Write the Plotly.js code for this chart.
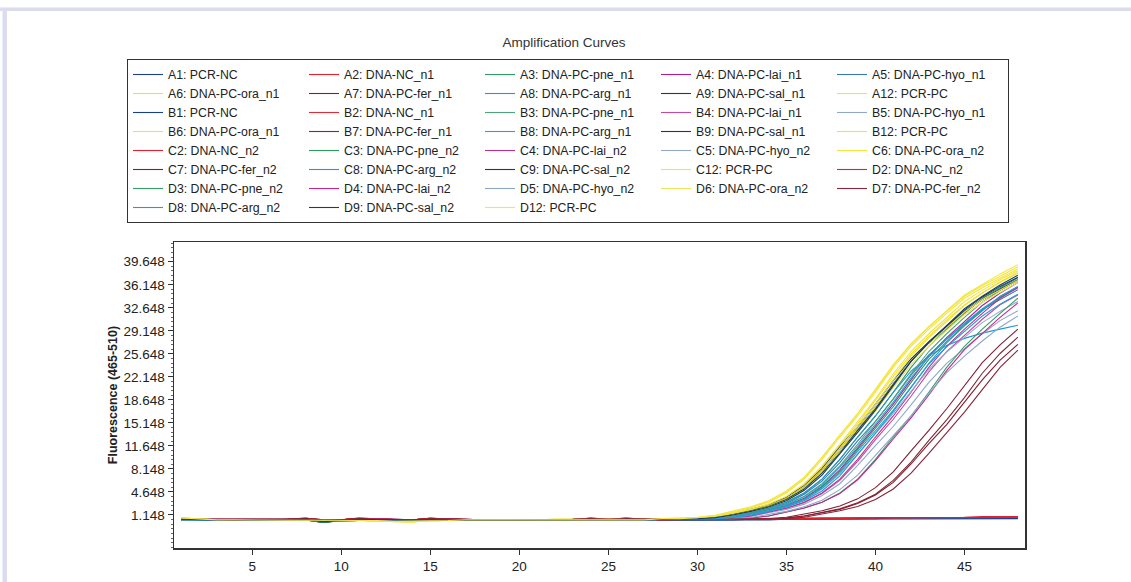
<!DOCTYPE html>
<html><head><meta charset="utf-8">
<script src="https://cdn.plot.ly/plotly-3.0.1.min.js"></script>
<style>html,body{margin:0;padding:0;background:#fff;}#chart{width:1131px;height:582px;}</style>
</head><body><div id="chart"></div>
<script>
const cycles = [1,2,3,4,5,6,7,8,9,10,11,12,13,14,15,16,17,18,19,20,21,22,23,24,25,26,27,28,29,30,31,32,33,34,35,36,37,38,39,40,41,42,43,44,45,46,47,48];
const yTicks = [1.148,4.648,8.148,11.648,15.148,18.648,22.148,25.648,29.148,32.648,36.148,39.648];
const xTicks = [5,10,15,20,25,30,35,40,45];

const y_A1 = [0.4,0.4,0.3,0.3,0.4,0.4,0.4,0.4,0.2,0.3,0.4,0.3,0.4,0.3,0.3,0.3,0.3,0.4,0.3,0.3,0.3,0.3,0.3,0.3,0.4,0.3,0.4, 0.4,0.4,0.4,0.4,0.4,0.4,0.4,0.5,0.5,0.5,0.5,0.6,0.6,0.6,0.6,0.6,0.6,0.6,0.6,0.6,0.6];
const y_A2 = [0.5,0.4,0.4,0.3,0.4,0.4,0.4,0.6,0.3,0.4,0.6,0.5,0.4,0.4,0.6,0.5,0.3,0.3,0.3,0.3,0.3,0.4,0.4,0.6,0.4,0.6,0.4, 0.5,0.5,0.5,0.5,0.5,0.5,0.6,0.6,0.6,0.6,0.6,0.6,0.7,0.7,0.7,0.7,0.7,0.8,0.8,0.8,0.8];
const y_A3 = [0.5,0.4,0.3,0.3,0.4,0.4,0.4,0.5,0.1,0.4,0.5,0.4,0.4,0.3,0.4,0.3,0.3,0.3,0.3,0.3,0.3,0.4,0.4,0.4,0.4,0.4,0.4, 0.5,0.5,0.55,0.7,1.0,1.6,2.2,3.1,4.5,6.6,9.6,13.0,16.2,19.8,23.6,26.8,29.4,31.8,34.1,35.7,37.2];
const y_A4 = [0.5,0.5,0.4,0.4,0.5,0.5,0.5,0.6,0.4,0.4,0.6,0.5,0.5,0.4,0.6,0.5,0.4,0.4,0.4,0.4,0.4,0.5,0.5,0.6,0.5,0.6,0.5, 0.5,0.5,0.52,0.6,0.8,1.3,1.9,2.6,3.7,5.5,8.0,11.3,14.6,18.0,21.7,25.3,28.1,30.6,33.0,34.9,36.5];
const y_A5 = [0.4,0.3,0.3,0.3,0.3,0.4,0.4,0.4,0.2,0.3,0.3,0.3,0.3,0.3,0.3,0.3,0.3,0.3,0.3,0.3,0.3,0.3,0.3,0.3,0.3,0.3,0.3, 0.5,0.5,0.55,0.7,1.0,1.5,2.1,2.9,4.3,6.3,9.1,12.4,15.4,18.8,22.4,25.5,27.9,30.2,32.4,33.9,35.4];
const y_A6 = [0.7,0.5,0.4,0.4,0.4,0.4,0.4,0.4,0.3,0.4,0.3,0.3,0.2,0.2,0.3,0.3,0.4,0.4,0.4,0.4,0.4,0.4,0.4,0.4,0.4,0.4,0.4, 0.5,0.55,0.65,0.9,1.4,2.0,2.8,3.9,5.8,8.5,11.8,15.0,18.6,22.2,25.6,28.3,30.8,33.1,34.9,36.6,38.0];
const y_A7 = [0.5,0.5,0.4,0.4,0.5,0.5,0.5,0.6,0.4,0.4,0.6,0.5,0.5,0.4,0.6,0.5,0.4,0.4,0.4,0.4,0.4,0.5,0.5,0.6,0.5,0.6,0.5, 0.5,0.5,0.5,0.5,0.5,0.5,0.6,0.8,1.3,1.8,2.5,3.6,5.3,7.7,10.9,14.0,17.3,20.8,24.3,27.0,29.4];
const y_A8 = [0.4,0.4,0.3,0.3,0.4,0.4,0.4,0.4,0.2,0.3,0.4,0.3,0.4,0.3,0.3,0.3,0.3,0.4,0.3,0.3,0.3,0.3,0.3,0.3,0.4,0.3,0.4, 0.5,0.5,0.55,0.7,1.0,1.6,2.2,3.1,4.5,6.6,9.6,13.0,16.2,19.8,23.0,25.3,26.9,28.0,28.8,29.4,30.0];
const y_A9 = [0.5,0.4,0.4,0.3,0.4,0.4,0.4,0.4,0.0,0.3,0.4,0.4,0.4,0.4,0.4,0.3,0.3,0.4,0.3,0.3,0.3,0.3,0.4,0.4,0.4,0.3,0.4, 0.5,0.55,0.65,0.9,1.35,2.0,2.7,3.8,5.6,8.2,11.5,14.6,18.0,21.6,24.9,27.5,29.9,32.1,33.9,35.5,36.9];
const y_A12 = [0.7,0.5,0.4,0.3,0.4,0.4,0.4,0.4,0.3,0.4,0.3,0.2,0.2,0.1,0.3,0.3,0.4,0.4,0.4,0.4,0.4,0.5,0.5,0.5,0.5,0.5,0.5, 0.5,0.55,0.7,1.0,1.6,2.2,3.1,4.5,6.6,9.6,13.0,16.2,19.8,23.6,26.8,29.4,31.8,34.1,35.7,37.2,38.6];

const y_B1 = [0.4,0.3,0.3,0.3,0.3,0.4,0.4,0.4,0.2,0.3,0.3,0.3,0.3,0.3,0.3,0.3,0.3,0.3,0.3,0.3,0.3,0.3,0.3,0.3,0.3,0.3,0.3, 0.4,0.4,0.4,0.4,0.4,0.5,0.5,0.5,0.5,0.5,0.6,0.6,0.6,0.7,0.7,0.6,0.6,0.7,0.7,0.7,0.7];
const y_B2 = [0.4,0.4,0.3,0.3,0.4,0.4,0.5,0.7,0.3,0.4,0.7,0.6,0.4,0.3,0.7,0.5,0.3,0.3,0.3,0.3,0.4,0.4,0.4,0.7,0.5,0.7,0.5, 0.5,0.5,0.5,0.5,0.6,0.6,0.6,0.6,0.6,0.7,0.7,0.7,0.7,0.7,0.8,0.8,0.8,0.8,0.8,0.8,0.8];
const y_B3 = [0.5,0.4,0.4,0.3,0.4,0.4,0.4,0.4,0.0,0.3,0.4,0.4,0.4,0.4,0.4,0.3,0.3,0.4,0.3,0.3,0.3,0.3,0.4,0.4,0.4,0.3,0.4, 0.5,0.5,0.53,0.65,0.9,1.4,2.0,2.8,4.0,5.9,8.6,11.9,15.3,18.8,22.6,26.0,28.7,31.2,33.5,35.3,36.9];
const y_B4 = [0.5,0.4,0.4,0.4,0.4,0.5,0.5,0.5,0.3,0.4,0.5,0.6,0.5,0.4,0.5,0.6,0.4,0.4,0.4,0.4,0.4,0.4,0.5,0.5,0.5,0.5,0.5, 0.5,0.5,0.5,0.55,0.7,1.0,1.55,2.15,3.0,4.4,6.4,9.3,12.6,15.7,19.2,22.9,26.0,28.5,30.9,33.1,34.6];
const y_B5 = [0.4,0.4,0.3,0.3,0.4,0.4,0.4,0.4,0.2,0.3,0.4,0.3,0.4,0.3,0.3,0.3,0.3,0.4,0.3,0.3,0.3,0.3,0.3,0.3,0.4,0.3,0.4, 0.5,0.5,0.5,0.55,0.7,0.95,1.5,2.0,2.8,4.1,5.9,8.7,11.7,14.6,17.9,21.3,24.2,26.5,28.7,30.7,32.2];
const y_B6 = [0.7,0.5,0.4,0.4,0.4,0.4,0.4,0.4,0.3,0.4,0.3,0.3,0.2,0.2,0.3,0.3,0.4,0.4,0.4,0.4,0.4,0.4,0.4,0.4,0.4,0.4,0.4, 0.5,0.52,0.6,0.8,1.3,1.9,2.6,3.7,5.5,8.0,11.3,14.6,18.0,21.7,25.3,28.1,30.6,33.0,34.9,36.5,37.9];
const y_B7 = [0.5,0.4,0.4,0.4,0.4,0.5,0.5,0.5,0.3,0.4,0.5,0.6,0.5,0.4,0.5,0.6,0.4,0.4,0.4,0.4,0.4,0.4,0.5,0.5,0.5,0.5,0.5, 0.5,0.5,0.5,0.5,0.5,0.5,0.55,0.7,1.0,1.55,2.1,3.0,4.3,6.4,9.2,12.5,15.6,19.0,22.7,25.7,28.2];
const y_B8 = [0.4,0.3,0.3,0.3,0.3,0.4,0.4,0.4,0.2,0.3,0.3,0.3,0.3,0.3,0.3,0.3,0.3,0.3,0.3,0.3,0.3,0.3,0.3,0.3,0.3,0.3,0.3, 0.5,0.5,0.53,0.64,0.89,1.37,1.96,2.7,3.9,5.7,8.4,11.6,14.9,18.3,22.0,25.2,27.9,30.3,32.5,34.3,35.8];
const y_B9 = [0.5,0.4,0.3,0.3,0.4,0.4,0.4,0.5,0.1,0.4,0.5,0.4,0.4,0.3,0.4,0.3,0.3,0.3,0.3,0.3,0.3,0.4,0.4,0.4,0.4,0.4,0.4, 0.5,0.52,0.6,0.8,1.3,1.9,2.5,3.6,5.3,7.8,11.0,14.2,17.5,21.1,24.6,27.3,29.7,32.0,33.9,35.4,36.8];
const y_B12 = [0.7,0.5,0.4,0.4,0.4,0.4,0.4,0.4,0.3,0.4,0.3,0.3,0.2,0.2,0.3,0.3,0.4,0.4,0.4,0.4,0.4,0.4,0.4,0.4,0.4,0.4,0.4, 0.6,0.65,0.8,1.1,1.7,2.4,3.3,4.8,6.9,9.9,13.3,16.5,20.1,23.9,27.1,29.7,32.1,34.4,36.0,37.5,38.9];

const y_C2 = [0.5,0.4,0.4,0.3,0.4,0.4,0.4,0.6,0.3,0.4,0.6,0.5,0.4,0.4,0.6,0.5,0.3,0.3,0.3,0.3,0.3,0.4,0.4,0.6,0.4,0.6,0.4, 0.4,0.5,0.5,0.5,0.5,0.5,0.5,0.6,0.6,0.6,0.6,0.7,0.7,0.7,0.7,0.7,0.8,0.8,0.8,0.9,0.9];
const y_C3 = [0.5,0.4,0.3,0.3,0.4,0.4,0.4,0.5,0.1,0.4,0.5,0.4,0.4,0.3,0.4,0.3,0.3,0.3,0.3,0.3,0.3,0.4,0.4,0.4,0.4,0.4,0.4, 0.5,0.5,0.52,0.6,0.8,1.3,1.9,2.5,3.6,5.4,7.8,11.1,14.3,17.6,21.3,24.8,27.5,30.0,32.3,34.2,35.8];
const y_C4 = [0.5,0.5,0.4,0.4,0.5,0.5,0.5,0.6,0.4,0.4,0.6,0.5,0.5,0.4,0.6,0.5,0.4,0.4,0.4,0.4,0.4,0.5,0.5,0.6,0.5,0.6,0.5, 0.5,0.5,0.5,0.55,0.7,1.0,1.6,2.2,3.1,4.5,6.6,9.6,13.0,16.2,19.8,23.6,26.8,29.4,31.8,34.1,35.7];
const y_C5 = [0.4,0.3,0.3,0.3,0.3,0.4,0.4,0.4,0.2,0.3,0.3,0.3,0.3,0.3,0.3,0.3,0.3,0.3,0.3,0.3,0.3,0.3,0.3,0.3,0.3,0.3,0.3, 0.5,0.5,0.52,0.6,0.78,1.2,1.8,2.4,3.4,5.1,7.4,10.4,13.5,16.6,20.0,23.3,25.9,28.2,30.4,32.1,33.6];
const y_C6 = [0.7,0.5,0.4,0.3,0.4,0.4,0.4,0.4,0.3,0.4,0.3,0.2,0.2,0.1,0.3,0.3,0.4,0.4,0.4,0.4,0.4,0.5,0.5,0.5,0.5,0.5,0.5, 0.5,0.52,0.6,0.8,1.3,1.9,2.5,3.6,5.3,7.8,11.0,14.2,17.5,21.1,24.6,27.3,29.7,32.0,33.9,35.4,36.8];
const y_C7 = [0.5,0.5,0.4,0.4,0.5,0.5,0.5,0.6,0.4,0.4,0.6,0.5,0.5,0.4,0.6,0.5,0.4,0.4,0.4,0.4,0.4,0.5,0.5,0.6,0.5,0.6,0.5, 0.5,0.5,0.5,0.5,0.5,0.5,0.55,0.7,1.0,1.5,2.0,2.9,4.2,6.1,8.9,12.0,14.9,18.3,21.7,24.7,27.1];
const y_C8 = [0.4,0.4,0.3,0.3,0.4,0.4,0.4,0.4,0.2,0.3,0.4,0.3,0.4,0.3,0.3,0.3,0.3,0.4,0.3,0.3,0.3,0.3,0.3,0.3,0.4,0.3,0.4, 0.5,0.5,0.5,0.57,0.74,1.1,1.7,2.35,3.3,4.8,7.1,10.3,13.6,16.9,20.5,24.2,27.3,29.9,32.2,34.4,35.9];
const y_C9 = [0.5,0.4,0.4,0.3,0.4,0.4,0.4,0.4,0.0,0.3,0.4,0.4,0.4,0.4,0.4,0.3,0.3,0.4,0.3,0.3,0.3,0.3,0.4,0.4,0.4,0.3,0.4, 0.5,0.52,0.58,0.78,1.2,1.8,2.45,3.5,5.1,7.5,10.6,14.0,17.3,21.0,24.5,27.4,29.9,32.3,34.3,35.9,37.3];
const y_C12 = [0.7,0.5,0.4,0.4,0.4,0.4,0.4,0.4,0.3,0.4,0.3,0.3,0.2,0.2,0.3,0.3,0.4,0.4,0.4,0.4,0.4,0.4,0.4,0.4,0.4,0.4,0.4, 0.5,0.55,0.65,0.9,1.4,2.0,2.8,4.0,5.9,8.6,11.9,15.3,18.8,22.6,26.0,28.7,31.2,33.6,35.3,36.9,38.3];

const y_D2 = [0.4,0.4,0.3,0.3,0.4,0.4,0.5,0.7,0.3,0.4,0.7,0.6,0.4,0.3,0.7,0.5,0.3,0.3,0.3,0.3,0.4,0.4,0.4,0.7,0.5,0.7,0.5, 0.5,0.5,0.5,0.5,0.5,0.6,0.6,0.6,0.7,0.7,0.7,0.7,0.7,0.8,0.8,0.8,0.8,0.8,0.9,0.9,0.9];
const y_D3 = [0.5,0.4,0.4,0.3,0.4,0.4,0.4,0.4,0.0,0.3,0.4,0.4,0.4,0.4,0.4,0.3,0.3,0.4,0.3,0.3,0.3,0.3,0.4,0.4,0.4,0.3,0.4, 0.5,0.5,0.5,0.5,0.55,0.7,1.0,1.6,2.2,3.1,4.5,6.6,9.6,13.0,16.2,19.8,23.6,26.8,29.4,31.8,34.1];
const y_D4 = [0.5,0.4,0.4,0.4,0.4,0.5,0.5,0.5,0.3,0.4,0.5,0.6,0.5,0.4,0.5,0.6,0.4,0.4,0.4,0.4,0.4,0.4,0.5,0.5,0.5,0.5,0.5, 0.5,0.5,0.5,0.5,0.55,0.7,1.0,1.6,2.2,3.1,4.4,6.5,9.4,12.7,15.9,19.4,23.1,26.3,28.8,31.2,33.4];
const y_D5 = [0.4,0.4,0.3,0.3,0.4,0.4,0.4,0.4,0.2,0.3,0.4,0.3,0.4,0.3,0.3,0.3,0.3,0.4,0.3,0.3,0.3,0.3,0.3,0.3,0.4,0.3,0.4, 0.5,0.5,0.5,0.52,0.6,0.77,1.2,1.7,2.4,3.4,5.0,7.2,10.2,13.2,16.2,19.6,22.8,25.3,27.6,29.7,31.4];
const y_D6 = [0.7,0.5,0.4,0.3,0.4,0.4,0.4,0.4,0.3,0.4,0.3,0.2,0.2,0.1,0.3,0.3,0.4,0.4,0.4,0.4,0.4,0.5,0.5,0.5,0.5,0.5,0.5, 0.5,0.5,0.57,0.75,1.15,1.7,2.35,3.3,4.9,7.2,10.4,13.6,16.9,20.5,24.0,26.8,29.2,31.6,33.5,35.0,36.5];
const y_D7 = [0.5,0.5,0.4,0.4,0.5,0.5,0.5,0.6,0.4,0.4,0.6,0.5,0.5,0.4,0.6,0.5,0.4,0.4,0.4,0.4,0.4,0.5,0.5,0.6,0.5,0.6,0.5, 0.5,0.5,0.5,0.5,0.5,0.5,0.52,0.6,0.8,1.25,1.8,2.45,3.5,5.1,7.5,10.5,13.6,16.8,20.2,23.6,26.2];
const y_D8 = [0.4,0.3,0.3,0.3,0.3,0.4,0.4,0.4,0.2,0.3,0.3,0.3,0.3,0.3,0.3,0.3,0.3,0.3,0.3,0.3,0.3,0.3,0.3,0.3,0.3,0.3,0.3, 0.5,0.5,0.52,0.6,0.78,1.26,1.8,2.5,3.5,5.2,7.6,10.8,13.9,17.1,20.6,24.1,26.7,29.1,31.4,33.2,34.7];
const y_D9 = [0.5,0.4,0.3,0.3,0.4,0.4,0.4,0.5,0.1,0.4,0.5,0.4,0.4,0.3,0.4,0.3,0.3,0.3,0.3,0.3,0.3,0.4,0.4,0.4,0.4,0.4,0.4, 0.5,0.5,0.57,0.75,1.15,1.7,2.35,3.3,4.9,7.2,10.4,13.7,17.1,20.8,24.5,27.4,30.0,32.5,34.4,36.1,37.6];
const y_D12 = [0.7,0.5,0.4,0.4,0.4,0.4,0.4,0.4,0.3,0.4,0.3,0.3,0.2,0.2,0.3,0.3,0.4,0.4,0.4,0.4,0.4,0.4,0.4,0.4,0.4,0.4,0.4, 0.6,0.6,0.75,1.05,1.6,2.3,3.2,4.6,6.8,9.9,13.3,16.6,20.3,24.0,27.2,29.8,32.2,34.6,36.2,37.8,39.2];

const labels = ['A1: PCR-NC','A2: DNA-NC_n1','A3: DNA-PC-pne_n1','A4: DNA-PC-lai_n1','A5: DNA-PC-hyo_n1',
  'A6: DNA-PC-ora_n1','A7: DNA-PC-fer_n1','A8: DNA-PC-arg_n1','A9: DNA-PC-sal_n1','A12: PCR-PC',
  'B1: PCR-NC','B2: DNA-NC_n1','B3: DNA-PC-pne_n1','B4: DNA-PC-lai_n1','B5: DNA-PC-hyo_n1',
  'B6: DNA-PC-ora_n1','B7: DNA-PC-fer_n1','B8: DNA-PC-arg_n1','B9: DNA-PC-sal_n1','B12: PCR-PC',
  'C2: DNA-NC_n2','C3: DNA-PC-pne_n2','C4: DNA-PC-lai_n2','C5: DNA-PC-hyo_n2','C6: DNA-PC-ora_n2',
  'C7: DNA-PC-fer_n2','C8: DNA-PC-arg_n2','C9: DNA-PC-sal_n2','C12: PCR-PC','D2: DNA-NC_n2',
  'D3: DNA-PC-pne_n2','D4: DNA-PC-lai_n2','D5: DNA-PC-hyo_n2','D6: DNA-PC-ora_n2','D7: DNA-PC-fer_n2',
  'D8: DNA-PC-arg_n2','D9: DNA-PC-sal_n2','D12: PCR-PC'];

const series = [y_A1,y_A2,y_A3,y_A4,y_A5,y_A6,y_A7,y_A8,y_A9,y_A12,
  y_B1,y_B2,y_B3,y_B4,y_B5,y_B6,y_B7,y_B8,y_B9,y_B12,
  y_C2,y_C3,y_C4,y_C5,y_C6,y_C7,y_C8,y_C9,y_C12,y_D2,
  y_D3,y_D4,y_D5,y_D6,y_D7,y_D8,y_D9,y_D12];

const colors = ['#1f3f8f','#e8202e','#2f9a66','#b3208c','#3a78b2',
  '#f2e22a','#7e2032','#1e98d6','#1b3b5c','#f4e33c',
  '#1a3f90','#e42a36','#4aa57a','#c14aa2','#8fa8c9',
  '#f0e040','#7a2a3a','#2a9fd8','#1d3a5a','#f3e537',
  '#e3202c','#2d9a5e','#c0308f','#93aacb','#f2e43a',
  '#8a1a2c','#1f9ad6','#1b3b5e','#f4e43e','#e0202a',
  '#359c66','#c2288e','#8ea6c6','#f0e25a','#85243a',
  '#229cd8','#1c3c5c','#f5e645'];

const traces = series.map((ys, i) => ({
  type: 'scatter', mode: 'lines', x: cycles, y: ys, name: labels[i],
  line: {color: colors[i], width: 1.1}, hoverinfo: 'skip'
}));

const L = 174, T = 242, W = 851, H = 306;
const px = v => (v - L) / W;
const py = v => (T + H - v) / H;

const layout = {
  width: 1131, height: 582,
  margin: {l: L, r: 1131 - L - W, t: T, b: 582 - T - H},
  paper_bgcolor: '#ffffff', plot_bgcolor: '#ffffff',
  font: {family: 'Liberation Sans, Arial, sans-serif', color: '#222'},
  title: {text: 'Amplification Curves', xref: 'container', x: 564/1131, xanchor: 'center',
          yref: 'container', y: 1 - 42/582, yanchor: 'middle',
          font: {family: 'Liberation Sans, Arial, sans-serif', size: 13.5, color: '#333'}},
  showlegend: true,
  legend: {orientation: 'h', x: px(127), xanchor: 'left', y: py(59), yanchor: 'top',
           entrywidth: 131, entrywidthmode: 'pixels', traceorder: 'normal',
           bordercolor: '#333', borderwidth: 1, bgcolor: '#ffffff',
           font: {family: 'Liberation Sans, Arial, sans-serif', size: 12.3, color: '#222'}},
  xaxis: {range: [0.6, 48.4], tickmode: 'array', tickvals: xTicks, ticks: 'outside', ticklen: 5, tickcolor: '#333',
          showline: true, mirror: true, linecolor: '#333', linewidth: 1.5,
          showgrid: false, zeroline: false,
          tickfont: {size: 13.5, color: '#222'}},
  yaxis: {range: [-3.87, 42.65], tickmode: 'array', tickvals: yTicks, tickformat: '.3f',
          ticks: 'outside', ticklen: 5, tickcolor: '#333',
          minor: {dtick: 0.7, tick0: 1.148, ticks: 'outside', ticklen: 2, tickcolor: '#666', showgrid: false},
          showline: true, mirror: true, linecolor: '#333', linewidth: 1.5,
          showgrid: false, zeroline: false,
          tickfont: {size: 13.5, color: '#222'},
          title: {text: 'Fluorescence (465-510)', standoff: 3,
                  font: {family: 'Liberation Sans, Arial, sans-serif', size: 12.5, color: '#222', weight: 'bold'}}},
  shapes: [
    {type: 'rect', xref: 'paper', yref: 'paper', x0: px(0), x1: px(1131), y0: py(11), y1: py(7.5),
     fillcolor: '#dcdcf0', line: {width: 0}, layer: 'below'},
    {type: 'rect', xref: 'paper', yref: 'paper', x0: px(2.5), x1: px(7), y0: py(582), y1: py(11),
     fillcolor: '#dcdcf0', line: {width: 0}, layer: 'below'}
  ]
};

Plotly.newPlot('chart', traces, layout, {displayModeBar: false, staticPlot: true});
</script></body></html>
